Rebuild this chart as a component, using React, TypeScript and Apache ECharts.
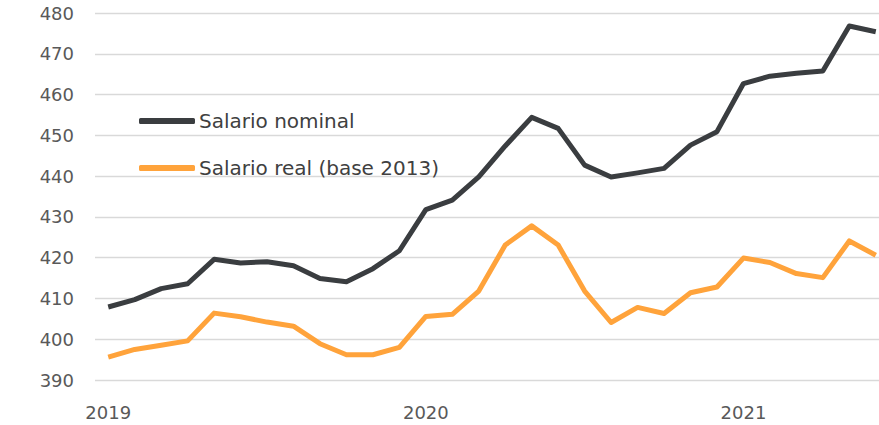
import React, { useEffect, useRef } from "react";
import * as echarts from "echarts";

const years = ["2019", "2020", "2021"];
const months = ["01", "02", "03", "04", "05", "06", "07", "08", "09", "10", "11", "12"];
const categories: string[] = [];
years.forEach((y) => months.forEach((m) => categories.push(`${y}-${m}`)));
const monthCategories = categories.slice(0, 30);

const nominal = [
  407.9, 409.7, 412.4, 413.6, 419.6, 418.7, 419.0, 418.0, 414.9, 414.1, 417.3, 421.7,
  431.8, 434.1, 439.8, 447.4, 454.4, 451.7, 442.7, 439.8, 440.8, 441.9, 447.6, 450.9,
  462.7, 464.5, 465.2, 465.8, 476.8, 475.4,
];
const real = [
  395.6, 397.5, 398.5, 399.6, 406.4, 405.5, 404.2, 403.2, 398.9, 396.2, 396.2, 398.0,
  405.6, 406.1, 411.8, 423.1, 427.8, 423.1, 411.8, 404.1, 407.8, 406.3, 411.4, 412.8,
  419.9, 418.8, 416.1, 415.1, 424.1, 420.6,
];
const seriesNames = ["Salario nominal", "Salario real (base 2013)"];

const FONT = "'DejaVu Sans', sans-serif";

export default function App() {
  const ref = useRef<HTMLDivElement>(null);
  useEffect(() => {
    if (!ref.current) return;
    const chart = echarts.init(ref.current, undefined, { renderer: "svg" });
    chart.setOption({
      animation: false,
      textStyle: { fontFamily: FONT },
      grid: { left: 95, top: 13, height: 367, width: 794, containLabel: false },
      legend: {
        orient: "vertical",
        left: 139,
        top: 110,
        padding: 0,
        itemWidth: 56,
        itemHeight: 6,
        itemGap: 25,
        icon: "roundRect",
        textStyle: { fontSize: 20, color: "#404040", fontFamily: FONT, lineHeight: 22, padding: [0, 0, 0, -1] },
        data: seriesNames,
      },
      xAxis: {
        type: "category",
        data: monthCategories,
        boundaryGap: true,
        axisLine: { show: false },
        axisTick: { show: false },
        axisLabel: {
          interval: 11,
          fontSize: 18,
          color: "#595959",
          margin: 23,
          formatter: (v: string) => v.split("-")[0],
        },
      },
      yAxis: {
        type: "value",
        min: 390,
        max: 480,
        interval: 10,
        axisLine: { show: false },
        axisTick: { show: false },
        axisLabel: { fontSize: 18, color: "#595959", margin: 21 },
        splitLine: { lineStyle: { color: "#d9d9d9", width: 1.3 } },
      },
      series: [
        {
          name: seriesNames[0],
          type: "line",
          data: nominal,
          symbol: "none",
          itemStyle: { color: "#3a3d40" },
          lineStyle: { color: "#3a3d40", width: 5, join: "round" },
        },
        {
          name: seriesNames[1],
          type: "line",
          data: real,
          symbol: "none",
          itemStyle: { color: "#ffa33b" },
          lineStyle: { color: "#ffa33b", width: 5, join: "round" },
        },
      ],
    });
    return () => chart.dispose();
  }, []);
  return (
    <div style={{ width: 879, height: 425, position: "absolute", left: 0, top: 0, overflow: "hidden" }}>
      <div ref={ref} style={{ width: 900, height: 425 }} />
    </div>
  );
}
